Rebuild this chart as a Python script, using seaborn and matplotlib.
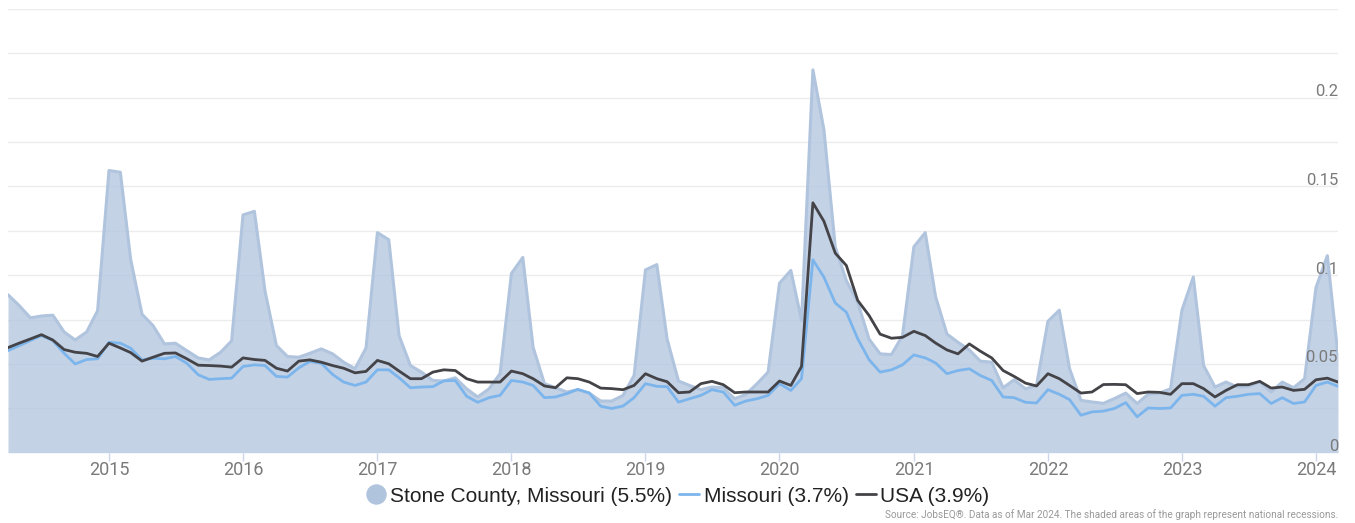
import pandas as pd
import numpy as np
import matplotlib
matplotlib.use("Agg")
import matplotlib.pyplot as plt
from matplotlib.lines import Line2D
from matplotlib.ticker import MultipleLocator
import matplotlib.transforms as mtransforms
import seaborn as sns

# Monthly unemployment rate, Apr 2014 - Mar 2024
months = pd.date_range("2014-04-01", periods=120, freq="MS")

stone = [
    0.089, 0.083, 0.076, 0.077, 0.0775, 0.068, 0.0635, 0.068, 0.080,
    0.159, 0.158, 0.109, 0.078, 0.0716, 0.0613, 0.0617, 0.0575, 0.0534, 0.0523, 0.0566, 0.063,
    0.134, 0.136, 0.091, 0.0604, 0.0542, 0.0538, 0.056, 0.0585, 0.0557, 0.051, 0.0473, 0.059,
    0.124, 0.120, 0.066, 0.0491, 0.0454, 0.0407, 0.0404, 0.0422, 0.036, 0.0314, 0.036, 0.0445,
    0.101, 0.110, 0.0594, 0.0389, 0.0366, 0.0342, 0.0355, 0.0336, 0.0291, 0.0291, 0.0323, 0.0435,
    0.103, 0.106, 0.064, 0.0404, 0.0379, 0.0355, 0.037, 0.0366, 0.0304, 0.0328, 0.0389, 0.0454,
    0.0955, 0.1027, 0.0745, 0.2157, 0.182, 0.1158, 0.097, 0.0848, 0.064, 0.0557, 0.0553, 0.066,
    0.116, 0.124, 0.088, 0.0669, 0.0622, 0.0579, 0.0516, 0.051, 0.0366, 0.0411, 0.036, 0.0379,
    0.074, 0.0803, 0.0473, 0.0295, 0.0286, 0.0278, 0.0305, 0.0336, 0.0277, 0.0329, 0.0336, 0.036,
    0.0803, 0.099, 0.0491, 0.037, 0.0398, 0.037, 0.0374, 0.0398, 0.0342, 0.0398, 0.0366, 0.0417,
    0.093, 0.111, 0.055,
]

missouri = [
    0.0575, 0.0603, 0.0632, 0.066, 0.0632, 0.056, 0.050, 0.0525, 0.0529,
    0.0622, 0.0617, 0.0589, 0.0523, 0.0532, 0.0529, 0.0542, 0.0504, 0.0439, 0.0413, 0.0417, 0.042,
    0.0486, 0.0495, 0.0491, 0.043, 0.0426, 0.0478, 0.0514, 0.0504, 0.0441, 0.0398, 0.0379, 0.0398,
    0.0467, 0.0467, 0.0422, 0.0366, 0.037, 0.0372, 0.0405, 0.0407, 0.0318, 0.0284, 0.031, 0.0323,
    0.0407, 0.0398, 0.0379, 0.031, 0.0314, 0.0333, 0.0357, 0.0336, 0.0262, 0.0249, 0.0263, 0.031,
    0.0389, 0.0374, 0.0372, 0.0285, 0.0304, 0.0323, 0.0355, 0.0342, 0.0267, 0.0291, 0.0304, 0.0323,
    0.0389, 0.0351, 0.0417, 0.1087, 0.0989, 0.0843, 0.0792, 0.0642, 0.0524, 0.0454, 0.0467, 0.0495,
    0.0551, 0.0534, 0.0506, 0.0445, 0.0463, 0.0473, 0.0435, 0.0407, 0.0314, 0.031, 0.0284, 0.028,
    0.0355, 0.0329, 0.0299, 0.0211, 0.023, 0.0234, 0.0249, 0.0282, 0.0202, 0.0252, 0.0249, 0.0252,
    0.0323, 0.0329, 0.0318, 0.0262, 0.031, 0.0318, 0.0329, 0.0333, 0.0277, 0.031, 0.0277, 0.0286,
    0.0379, 0.0398, 0.0374,
]

usa = [
    0.0592, 0.0617, 0.0641, 0.0665, 0.0635, 0.0581, 0.0566, 0.056, 0.0542,
    0.0617, 0.059, 0.0564, 0.0516, 0.0538, 0.056, 0.0562, 0.0529, 0.0493, 0.0491, 0.0488, 0.0482,
    0.0534, 0.0525, 0.052, 0.0476, 0.046, 0.0516, 0.0523, 0.051, 0.0491, 0.0476, 0.045, 0.0458,
    0.052, 0.0501, 0.046, 0.0417, 0.0417, 0.0454, 0.0467, 0.0463, 0.0417, 0.0398, 0.0398, 0.0398,
    0.046, 0.0445, 0.0417, 0.0376, 0.0366, 0.0422, 0.0417, 0.0398, 0.0364, 0.0361, 0.0355, 0.0379,
    0.0445, 0.0417, 0.040, 0.0338, 0.0342, 0.0389, 0.0402, 0.0383, 0.0338, 0.0342, 0.0342, 0.0342,
    0.0404, 0.0379, 0.0486, 0.1408, 0.1304, 0.1124, 0.1055, 0.0858, 0.0773, 0.0668, 0.0645, 0.065,
    0.0684, 0.066, 0.0618, 0.0579, 0.0557, 0.0613, 0.0572, 0.0534, 0.0463, 0.043, 0.0392, 0.0376,
    0.0445, 0.0417, 0.0379, 0.0336, 0.0342, 0.0384, 0.0385, 0.0383, 0.0333, 0.0342, 0.034, 0.0329,
    0.0389, 0.0389, 0.0361, 0.0314, 0.0351, 0.0383, 0.0383, 0.0402, 0.0364, 0.037, 0.0351, 0.0357,
    0.0411, 0.042, 0.0398,
]

year_ticks = pd.date_range("2015-01-01", "2024-01-01", freq="YS")
year_labels = [str(d.year) for d in year_ticks]
y_label_values = [0, 0.05, 0.1, 0.15, 0.2]
y_labels = ["0", "0.05", "0.1", "0.15", "0.2"]

legend_labels = ["Stone County, Missouri (5.5%)", "Missouri (3.7%)", "USA (3.9%)"]
source_text = ("Source: JobsEQ\u00ae. Data as of Mar 2024. "
               "The shaded areas of the graph represent national recessions.")

df = pd.DataFrame({"month": months, "stone": stone, "missouri": missouri, "usa": usa})

sns.set_theme(style="white")
plt.rcParams["font.family"] = ["Roboto", "DejaVu Sans"]

STONE_EDGE = "#b0c4de"
MO_COLOR = "#7cb5ec"
USA_COLOR = "#434348"
TEXT_GRAY = "#7a7a7a"

fig = plt.figure(figsize=(13.55, 5.23), dpi=100)
ax = fig.add_axes([8 / 1355, 70.3 / 523, 1330 / 1355, 443.7 / 523])

ax.fill_between(df["month"], 0, df["stone"], color=STONE_EDGE, alpha=0.75, linewidth=0, zorder=1)
sns.lineplot(data=df, x="month", y="stone", ax=ax, color=STONE_EDGE, linewidth=2.2, zorder=2)
sns.lineplot(data=df, x="month", y="missouri", ax=ax, color=MO_COLOR, linewidth=2.0, zorder=3)
sns.lineplot(data=df, x="month", y="usa", ax=ax, color=USA_COLOR, linewidth=2.0, zorder=4)

ax.set_xlim(months[0], months[-1])
ax.set_ylim(0, 0.25)
ax.set_xlabel("")
ax.set_ylabel("")

# grid every 0.025; value labels every 0.05 drawn inside on the right, above the area
ax.yaxis.set_major_locator(MultipleLocator(0.025))
ax.tick_params(axis="y", which="both", length=0, labelleft=False, labelright=False)
ax.grid(True, axis="y", color="#ececec", linewidth=1.0, zorder=0)
ax.set_axisbelow(True)

trans = mtransforms.blended_transform_factory(ax.transAxes, ax.transData)
offset = mtransforms.ScaledTranslation(0, 1.5 / 100, fig.dpi_scale_trans)
for val, lab in zip(y_label_values, y_labels):
    ax.text(1.0, val, lab, transform=trans + offset, ha="right", va="baseline",
            fontsize=12, color=TEXT_GRAY, zorder=10)

ax.set_xticks(year_ticks)
ax.set_xticklabels(year_labels)
ax.tick_params(axis="x", length=6, width=1, color="#ccd6eb", labelsize=13,
               labelcolor=TEXT_GRAY, pad=0, bottom=True)

for side in ["top", "right", "left", "bottom"]:
    ax.spines[side].set_visible(False)

handles = [
    Line2D([], [], marker="o", linestyle="none", markersize=13.7,
           markerfacecolor=STONE_EDGE, markeredgecolor=STONE_EDGE),
    Line2D([], [], color=MO_COLOR, linewidth=2),
    Line2D([], [], color=USA_COLOR, linewidth=2),
]
leg = fig.legend(handles, legend_labels, loc="center", bbox_to_anchor=(0.5, 27 / 523),
                 ncol=3, frameon=False, handlelength=0.96, handletextpad=0.2,
                 columnspacing=0.34, borderpad=0.2,
                 prop={"family": ["Liberation Sans"], "size": 15})
for t in leg.get_texts():
    t.set_color("#222222")

fig.text(1338 / 1355, 3 / 523, source_text, ha="right", va="bottom",
         fontsize=7.2, color="#999999")

fig.savefig("out.png", dpi=100)
